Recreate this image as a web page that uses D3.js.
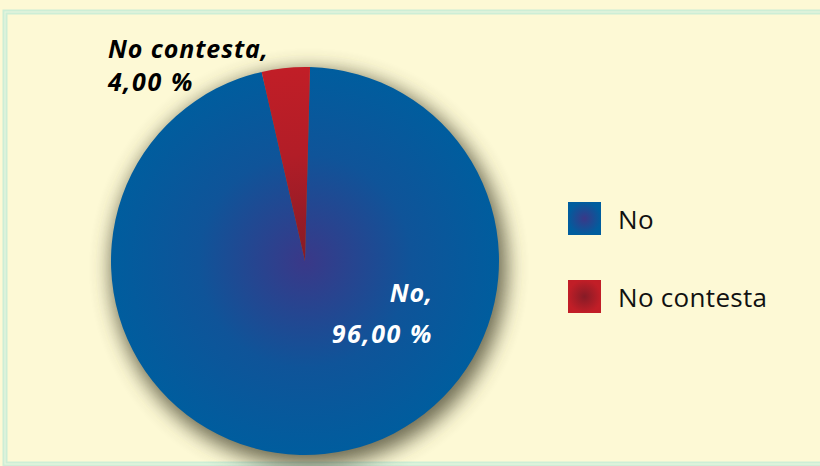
<!DOCTYPE html>
<html lang="es">
<head>
<meta charset="UTF-8">
<script src="https://d3js.org/d3.v7.min.js"></script>
<style>
  html, body { margin: 0; padding: 0; background: #fdf9d5; }
  svg { display: block; }
</style>
</head>
<body>
<svg id="chart" width="820" height="466"></svg>
<script>
  // data
  const categories = ["No", "No contesta"];
  const values = [96, 4];
  const valueLabels = ["96,00 %", "4,00 %"];

  const svg = d3.select("#chart");
  const width = +svg.attr("width");
  const height = +svg.attr("height");

  const data = categories.map((c, i) => ({ name: c, value: values[i], label: valueLabels[i] }));

  const colors = {
    "No": { inner: "#3a3888", outer: "#005d9e" },
    "No contesta": { inner: "#861b26", outer: "#c11e27" }
  };

  const defs = svg.append("defs");

  // radial gradients for the slices (centred on the pie) and the legend swatches
  data.forEach((d, i) => {
    const g = defs.append("radialGradient")
      .attr("id", "grad" + i)
      .attr("gradientUnits", "userSpaceOnUse")
      .attr("cx", 0).attr("cy", 0).attr("r", 194);
    g.append("stop").attr("offset", "0%").attr("stop-color", colors[d.name].inner);
    g.append("stop").attr("offset", "55%").attr("stop-color", d3.interpolateRgb(colors[d.name].inner, colors[d.name].outer)(0.75));
    g.append("stop").attr("offset", "100%").attr("stop-color", colors[d.name].outer);

    const s = defs.append("radialGradient").attr("id", "sw" + i);
    s.append("stop").attr("offset", "0%").attr("stop-color", colors[d.name].inner);
    s.append("stop").attr("offset", "100%").attr("stop-color", colors[d.name].outer);
  });

  const shadow = defs.append("filter").attr("id", "shadow")
    .attr("x", "-30%").attr("y", "-30%").attr("width", "160%").attr("height", "160%");
  shadow.append("feGaussianBlur").attr("stdDeviation", 10);

  // background frame
  svg.append("rect").attr("width", width).attr("height", height).attr("fill", "#fdf9d5");
  svg.append("rect")
    .attr("x", 5).attr("y", 12).attr("width", width + 20).attr("height", 452)
    .attr("fill", "none").attr("stroke", "#cdeed6").attr("stroke-width", 5);
  svg.append("rect")
    .attr("x", 5).attr("y", 12).attr("width", width + 20).attr("height", 452)
    .attr("fill", "none").attr("stroke", "#e6f6dc").attr("stroke-width", 1.2);

  const cx = 305, cy = 261, radius = 194;
  const pie = d3.pie().sort(null).value(d => d.value)
    .startAngle(0.026).endAngle(0.026 + 2 * Math.PI);
  const arc = d3.arc().innerRadius(0).outerRadius(radius);
  const arcs = pie(data);

  const g = svg.append("g").attr("transform", `translate(${cx},${cy})`);

  g.append("circle")
    .attr("cx", 4).attr("cy", 7).attr("r", radius + 4)
    .attr("fill", "#4a4630").attr("opacity", 0.8)
    .attr("filter", "url(#shadow)");

  g.selectAll("path.slice")
    .data(arcs)
    .join("path")
    .attr("class", "slice")
    .attr("d", arc)
    .attr("fill", (d, i) => `url(#grad${i})`);

  // labels
  const labelFont = "'Open Sans', 'DejaVu Sans', sans-serif";
  const addLabel = (x, y, anchor, fill, spacing, txt) => svg.append("text")
    .attr("x", x).attr("y", y).attr("text-anchor", anchor)
    .attr("font-family", labelFont).attr("font-size", 25)
    .attr("font-weight", "bold").attr("font-style", "italic")
    .attr("letter-spacing", spacing)
    .attr("fill", fill)
    .text(txt);

  addLabel(108, 58, "start", "#000", 0.9, data[1].name + ",");
  addLabel(108, 91, "start", "#000", 1.6, data[1].label);
  addLabel(433, 302, "end", "#fff", 0.9, data[0].name + ",");
  addLabel(433, 343, "end", "#fff", 1.6, data[0].label);

  // legend
  const legendY = d3.scalePoint().domain(categories).range([202, 280]);
  const legend = svg.append("g");
  const item = legend.selectAll("g")
    .data(data)
    .join("g")
    .attr("transform", d => `translate(568,${legendY(d.name)})`);
  item.append("rect")
    .attr("width", 33).attr("height", 33)
    .attr("fill", (d, i) => `url(#sw${i})`);
  item.append("text")
    .attr("x", 50).attr("y", 27)
    .attr("font-family", labelFont).attr("font-size", 26)
    .attr("letter-spacing", 0.3)
    .attr("fill", "#111")
    .text(d => d.name);
</script>
</body>
</html>
